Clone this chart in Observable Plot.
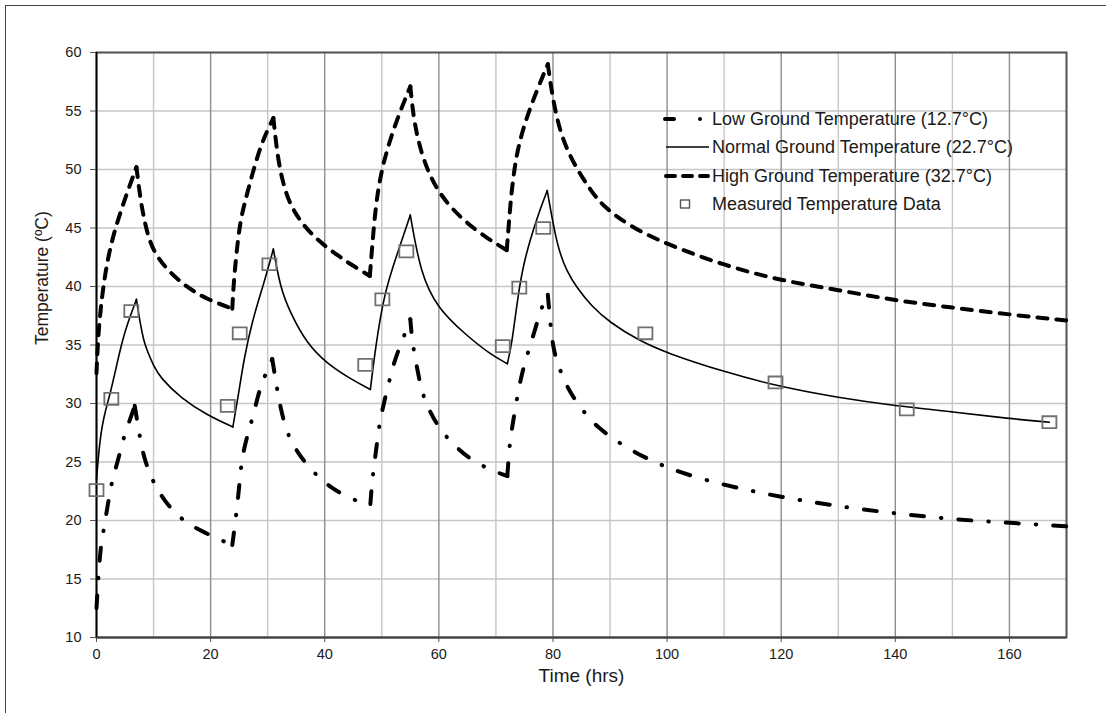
<!DOCTYPE html>
<html>
<head>
<meta charset="utf-8">
<script src="https://cdn.jsdelivr.net/npm/d3@7"></script>
<script src="https://cdn.jsdelivr.net/npm/@observablehq/plot@0.6"></script>
<style>
  html, body { margin: 0; padding: 0; background: #fff; }
  #wrap { position: relative; width: 1106px; height: 713px; overflow: hidden; background: #fff;
          font-family: "Liberation Sans", Arial, sans-serif; }
  #outer { position: absolute; left: 4.5px; top: 4.5px; width: 3000px; height: 3000px;
           border-left: 1.5px solid #444; border-top: 1.5px solid #444; pointer-events: none; }
  .lg { position: absolute; height: 20px; line-height: 20px; font-size: 18px; color: #1a1a1a; white-space: nowrap; }
  .lgs { position: absolute; }
</style>
</head>
<body>
<div id="wrap"><div id="chart"></div><div id="legend"></div><div id="outer"></div></div>
<script>
// ---- data ----
const xTicks = [0, 20, 40, 60, 80, 100, 120, 140, 160];
const xMinorGrid = [10, 30, 50, 70, 90, 110, 130, 150, 170];
const yTicks = [10, 15, 20, 25, 30, 35, 40, 45, 50, 55, 60];

const seriesNames = [
  "Low Ground Temperature (12.7°C)",
  "Normal Ground Temperature (22.7°C)",
  "High Ground Temperature (32.7°C)",
  "Measured Temperature Data"
];

// [time (hrs), temperature (°C)]
const lowSeries = [
  [0,12.5],[0.3,15],[0.7,17.7],[1.3,19.3],[1.9,21.1],[2.6,23.2],[3.6,24.8],[4.8,27.2],[6,28.8],[6.7,29.8],
  [7.4,27.7],[8.3,25.3],[9.8,23.4],[11.8,21.7],[15,20],[18.7,19],[23.8,17.9],
  [24.2,19.4],[24.7,21.4],[25.1,23.4],[25.5,25.4],[26.5,27.4],[27.5,29],[28.6,31.3],[29.9,32.8],[30.8,33.8],
  [31.5,31.7],[32.2,29.7],[33.4,27.4],[35.2,25.8],[38,24.1],[41,22.8],[45.1,21.7],[48,21.4],
  [48.3,23.4],[48.9,25.6],[49.5,28],[50.1,29.5],[51.2,31.7],[52.1,33.5],[53.6,35.4],[55,37.2],
  [55.3,35.4],[56.1,33.2],[57.1,30.8],[58.4,29.3],[60.3,27.7],[62.9,26.3],[66.1,25],[70.2,24.1],[72,23.8],
  [72.4,26.6],[73,28.4],[73.7,30.5],[74.6,32.7],[75.7,34.5],[76.8,36.2],[78.1,38.4],[79.1,39.3],
  [79.6,36.5],[80.1,34.5],[81.3,32.7],[83.1,30.8],[85.7,29.1],[87.7,28],[92.4,26.3],[100,24.4],
  [110,23],[120,22],[130,21.2],[140,20.6],[150,20.1],[160,19.8],[170,19.5]
];
const normalSeries = [
  [0,23.5],[0.5,26.5],[1.2,28.8],[2.5,31],[3.4,33],[4.5,35.3],[5.4,36.8],[7,38.9],
  [7.6,37],[8.3,35.3],[8.9,34.5],[10,33.2],[11.2,32.2],[14.7,30.5],[19.4,29],[23.9,28],
  [24.9,30.8],[25.8,33.7],[27.3,37.1],[29.3,40.2],[31,43.2],
  [32.2,39.9],[34,37.7],[36.9,35.1],[40.4,33.4],[44.5,32.1],[48,31.2],
  [48.9,34.8],[50.4,39.4],[52.7,42.8],[55,46.1],
  [56.8,41.1],[59.7,38.2],[64.4,36],[69,34.2],[72,33.4],
  [72.8,35.1],[73.8,39],[74.9,42.2],[77.2,45.9],[79,48.2],
  [80.7,43.4],[82.5,41.2],[84.2,39.9],[86.6,38.4],[90,36.9],[95,35.4],[100,34.3],[110,32.7],[120,31.4],
  [130,30.5],[140,29.8],[150,29.3],[160,28.7],[167,28.4]
];
const highSeries = [
  [0,32.6],[0.3,36],[1,39.4],[1.9,42.2],[3,44.5],[4.5,46.8],[5.8,48.6],[7,50.2],
  [7.7,47.4],[8.6,45.1],[9.8,43.1],[12.4,41.4],[15.9,39.9],[19.4,38.9],[23.8,38.1],
  [24,40],[24.5,42.8],[25.2,45.6],[26.1,47.4],[27.3,49.6],[28.7,51.9],[29.9,53.3],[31,54.4],
  [31.6,51.6],[32.5,49.1],[34,46.8],[36.9,44.8],[40.4,43.3],[42.8,42.5],[44.5,41.9],[47.9,40.9],
  [48.3,43.3],[48.9,46.8],[49.8,49.6],[51.2,52.2],[53,54.7],[55,57.1],
  [55.6,54.2],[56.8,51.6],[58.5,49.3],[60.9,47.4],[64.4,45.6],[68.5,44.1],[71.9,43.1],
  [72.3,45.6],[72.8,48.5],[73.7,51.6],[75.2,54.2],[77.2,56.8],[79.1,59],
  [79.9,56.2],[81.3,53],[83.6,50.5],[86.6,48.2],[88.9,46.8],[93.6,45.1],[100,43.6],
  [110,41.8],[120,40.5],[130,39.7],[140,38.8],[150,38.2],[160,37.6],[170,37.1]
];
const measuredTime = [0, 2.6, 6.1, 23, 25.1, 30.3, 47.1, 50.1, 54.3, 71.2, 74.1, 78.3, 96.2, 119, 142, 167];
const measuredTemp = [22.6, 30.4, 37.9, 29.8, 36.0, 41.9, 33.3, 38.9, 43.0, 34.9, 39.9, 45.0, 36.0, 31.8, 29.5, 28.4];
const measured = measuredTime.map((t, i) => ({t, v: measuredTemp[i]}));

// split a series into rising / falling pieces at its turning points,
// so each piece can be smoothed while the peaks stay sharp
function pieces(series) {
  const out = [];
  let seg = 0;
  series.forEach(([t, v], i) => {
    out.push({t, v, seg});
    if (i > 0 && i < series.length - 1) {
      const d1 = v - series[i - 1][1], d2 = series[i + 1][1] - v;
      if (d1 * d2 < 0) { seg++; out.push({t, v, seg}); }
    }
  });
  return out;
}

// rectangle marker symbol (slightly wider than tall)
const rectSymbol = {
  draw(ctx, size) {
    const r = Math.sqrt(size / Math.PI);
    const w = r, h = r * 0.85;
    ctx.moveTo(-w, -h); ctx.lineTo(w, -h); ctx.lineTo(w, h); ctx.lineTo(-w, h); ctx.closePath();
  }
};

const FONT = "'Liberation Sans', Arial, sans-serif";
const lineBase = {x: "t", y: "v", z: "seg", curve: "basis"};
const lowStyle = {stroke: "#000", strokeWidth: 4, strokeDasharray: "13,17,0.5,17", strokeLinecap: "round"};
const normalStyle = {stroke: "#000", strokeWidth: 1.6, strokeLinejoin: "round"};
const highStyle = {stroke: "#000", strokeWidth: 4, strokeDasharray: "10,9", strokeLinecap: "round"};

const chart = Plot.plot({
  width: 1106,
  height: 713,
  marginLeft: 96,
  marginRight: 40,
  marginTop: 52,
  marginBottom: 76,
  style: {fontFamily: FONT, background: "transparent", color: "#1a1a1a"},
  x: {domain: [0, 170]},
  y: {domain: [10, 60]},
  marks: [
    Plot.gridY(yTicks, {stroke: "#c6c6c6", strokeOpacity: 1, strokeWidth: 1.4}),
    Plot.gridX(xMinorGrid, {stroke: "#c6c6c6", strokeOpacity: 1, strokeWidth: 1.4}),
    Plot.gridX(xTicks, {stroke: "#8e8e8e", strokeOpacity: 1, strokeWidth: 1.4}),
    Plot.frame({stroke: "#555", strokeWidth: 2}),
    Plot.axisY(yTicks, {tickSize: 6, tickPadding: 9, fontSize: 14.5, label: null, stroke: "#555"}),
    Plot.axisX(xTicks, {tickSize: 5, tickPadding: 6, fontSize: 14.5, label: null, stroke: "#555"}),
    Plot.ruleY([10], {stroke: "#444", strokeWidth: 2}),
    Plot.ruleX([0], {stroke: "#000", strokeWidth: 1.6}),
    Plot.text(["Time (hrs)"], {frameAnchor: "bottom", dy: 44, fontSize: 19, fill: "#1a1a1a"}),
    Plot.text(["Temperature (ºC)"], {frameAnchor: "left", rotate: -90, dx: -54, fontSize: 17.5, fill: "#1a1a1a"}),
    Plot.line(pieces(lowSeries), {...lineBase, ...lowStyle}),
    Plot.line(pieces(normalSeries), {...lineBase, ...normalStyle}),
    Plot.line(pieces(highSeries), {...lineBase, ...highStyle}),
    Plot.dot(measured, {x: "t", y: "v", symbol: rectSymbol, r: 7, stroke: "#707070", strokeWidth: 1.8, fill: "none"})
  ]
});
document.getElementById("chart").appendChild(chart);

// ---- legend (HTML overlay) ----
const legend = document.getElementById("legend");
const rowY = [119, 147, 176, 204];
const samples = [
  `<line x1="5" y1="10" x2="14" y2="10" stroke="#000" stroke-width="4" stroke-linecap="round"/><circle cx="40" cy="10" r="2" fill="#000"/>`,
  `<line x1="6" y1="10" x2="49" y2="10" stroke="#000" stroke-width="1.6"/>`,
  `<line x1="6" y1="10" x2="48" y2="10" stroke="#000" stroke-width="4" stroke-linecap="round" stroke-dasharray="9,8"/>`,
  `<rect x="20.5" y="6" width="9" height="8" fill="none" stroke="#555" stroke-width="1.4"/>`
];
seriesNames.forEach((name, i) => {
  const s = document.createElement("div");
  s.className = "lgs";
  s.style.left = "660px";
  s.style.top = (rowY[i] - 10) + "px";
  s.innerHTML = `<svg width="50" height="20">${samples[i]}</svg>`;
  legend.appendChild(s);
  const t = document.createElement("div");
  t.className = "lg";
  t.style.left = "712px";
  t.style.top = (rowY[i] - 10) + "px";
  t.textContent = name;
  legend.appendChild(t);
});
</script>
</body>
</html>
